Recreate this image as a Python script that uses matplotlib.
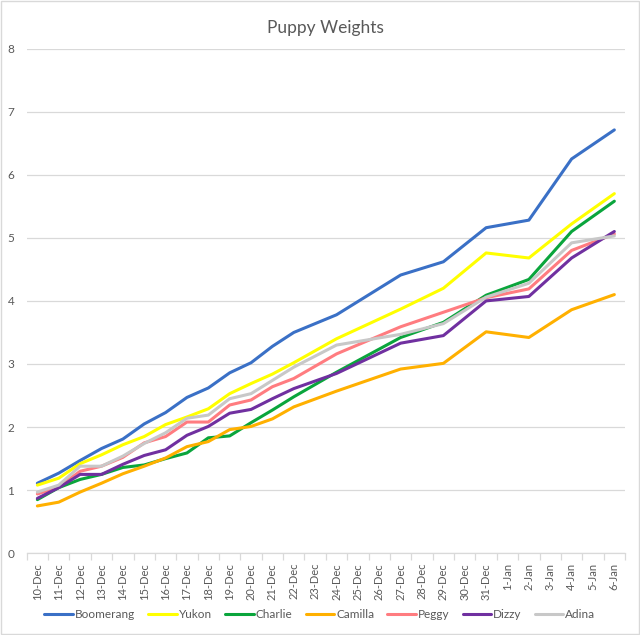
import numpy as np
import matplotlib
matplotlib.use('Agg')
import matplotlib.pyplot as plt
from matplotlib.patches import Rectangle

plt.rcParams['font.family'] = ['Lato', 'DejaVu Sans']

# category axis labels
day_labels = ['%d-Dec' % d for d in range(10, 32)] + ['%d-Jan' % d for d in range(1, 7)]

# days on which the puppies were weighed
weigh_days = ['10-Dec', '11-Dec', '12-Dec', '13-Dec', '14-Dec', '15-Dec', '16-Dec',
              '17-Dec', '18-Dec', '19-Dec', '20-Dec', '21-Dec', '22-Dec', '24-Dec',
              '27-Dec', '29-Dec', '31-Dec', '2-Jan', '4-Jan', '6-Jan']

boomerang = [1.11, 1.27, 1.47, 1.66, 1.81, 2.05, 2.23, 2.47, 2.62, 2.86, 3.02, 3.28, 3.50, 3.78,
             4.41, 4.62, 5.16, 5.28, 6.25, 6.71]
yukon = [1.08, 1.19, 1.42, 1.56, 1.72, 1.85, 2.04, 2.16, 2.29, 2.53, 2.69, 2.84, 3.02, 3.40,
         3.87, 4.20, 4.76, 4.68, 5.22, 5.70]
charlie = [0.85, 1.04, 1.17, 1.25, 1.36, 1.40, 1.50, 1.59, 1.83, 1.86, 2.07, 2.27, 2.48, 2.87,
           3.42, 3.66, 4.09, 4.34, 5.10, 5.58]
camilla = [0.75, 0.81, 0.97, 1.11, 1.26, 1.38, 1.51, 1.69, 1.77, 1.96, 2.01, 2.13, 2.32, 2.57,
           2.92, 3.01, 3.51, 3.42, 3.86, 4.10]
peggy = [0.94, 1.05, 1.30, 1.38, 1.52, 1.75, 1.85, 2.08, 2.08, 2.35, 2.43, 2.64, 2.77, 3.16,
         3.59, 3.82, 4.05, 4.19, 4.80, 5.06]
dizzy = [0.87, 1.04, 1.25, 1.25, 1.41, 1.55, 1.64, 1.87, 2.01, 2.22, 2.28, 2.45, 2.61, 2.85,
         3.33, 3.45, 4.00, 4.07, 4.68, 5.10]
adina = [0.97, 1.08, 1.38, 1.38, 1.54, 1.74, 1.91, 2.14, 2.19, 2.45, 2.53, 2.74, 2.95, 3.30,
         3.47, 3.64, 4.06, 4.28, 4.92, 5.03]

names = ['Boomerang', 'Yukon', 'Charlie', 'Camilla', 'Peggy', 'Dizzy', 'Adina']
series = [boomerang, yukon, charlie, camilla, peggy, dizzy, adina]
colors = ['#3A70C6', '#FFFF00', '#0AA53C', '#FFB000', '#FF7C80', '#7030A0', '#C8C8C8']

xpos = np.array([day_labels.index(d) for d in weigh_days])

fig = plt.figure(figsize=(6.4, 6.35), dpi=100)
ax = fig.add_axes([0.0417, 0.1287, 0.9349, 0.7949])

for name, vals, c in zip(names, series, colors):
    ax.plot(xpos, vals, color=c, lw=2.2, label=name, solid_capstyle='round')

ax.set_xlim(-0.5, len(day_labels) - 0.5)
ax.set_ylim(0, 8)
ax.set_yticks(range(9))
ax.yaxis.grid(True, color='#D9D9D9', lw=0.9)
ax.set_axisbelow(True)

ax.set_xticks(range(len(day_labels)))
ax.set_xticklabels(day_labels, rotation=90)
ax.set_xticks(np.arange(-0.5, len(day_labels)), minor=True)
ax.tick_params(axis='x', which='major', length=0, pad=7, labelsize=8, labelcolor='#595959')
ax.tick_params(axis='x', which='minor', length=5, color='#D9D9D9', width=0.9)
ax.tick_params(axis='y', length=0, pad=9, labelsize=8.5, labelcolor='#595959')
for s in ['top', 'right', 'left']:
    ax.spines[s].set_visible(False)
ax.spines['bottom'].set_color('#D9D9D9')
ax.spines['bottom'].set_linewidth(0.9)

ax.set_title('Puppy Weights', fontsize=12.5, color='#595959', pad=11)

fig.legend(loc='center', bbox_to_anchor=(0.5, 0.032), ncol=7, frameon=False,
           fontsize=8.5, handlelength=2.4, handletextpad=0.2, columnspacing=1.1,
           labelcolor='#595959')

fig.patches.append(Rectangle((0.002, 0.002), 0.996, 0.996, transform=fig.transFigure,
                             fill=False, edgecolor='#D9D9D9', lw=1))

fig.savefig('out.png', dpi=100)
